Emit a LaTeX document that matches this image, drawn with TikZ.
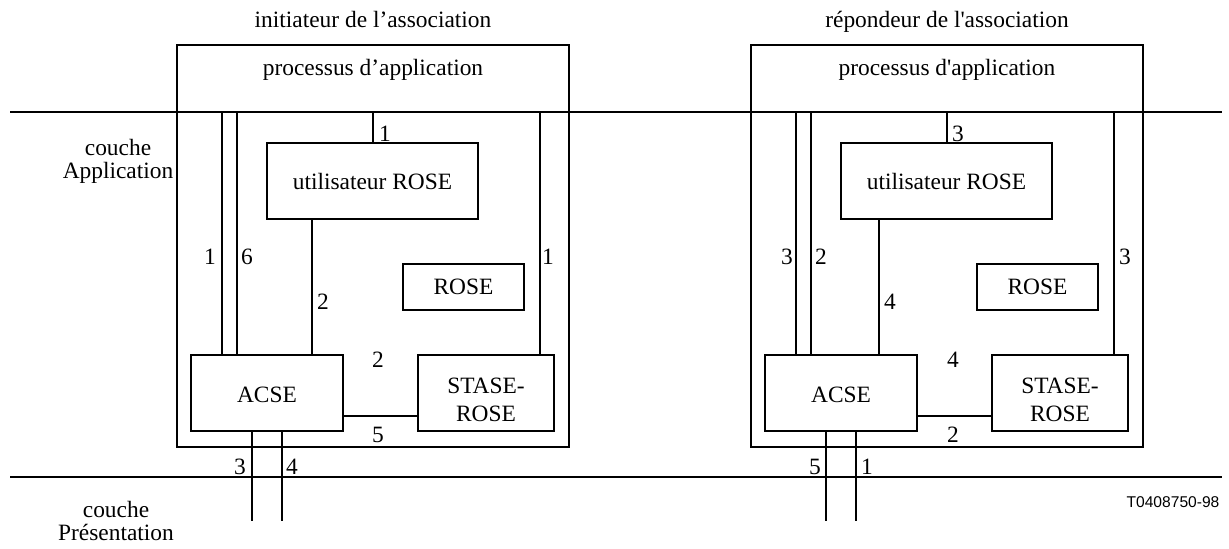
\documentclass[tikz,border=0pt]{standalone}
\usepackage{fontspec}
\setmainfont{Liberation Serif}[Ligatures=TeXOff]
\newfontfamily\labelsans{Liberation Sans}

% one side of the association: application process box and its entities
% #1 = process caption, #2 = x of the user/ACSE link
\newcommand\drawside[2]{%
  \node[box, minimum width=196pt, minimum height=201pt] (proc) at (373,246) {};
  \node[txt, anchor=base] (proctext) at (373,75) {#1};
  \node[box, minimum width=105.5pt, minimum height=38pt] (user) at (372.5,181) {utilisateur ROSE};
  \node[box, minimum width=60.5pt, minimum height=23pt] (rose) at (463.5,287) {ROSE};
  \node[box, minimum width=76pt, minimum height=38pt, text height=10pt] (acse) at (267,393) {ACSE};
  \node[box, minimum width=68pt, minimum height=38pt, align=center, text height=28.5pt,
        font=\fontsize{11.7}{14}\selectfont] (stase) at (486,393) {STASE-\\ROSE};
  \coordinate (va) at (222,112);
  \coordinate (vb) at (237,112);
  \coordinate (vu) at (373,112);
  \coordinate (vs) at (540,112);
  \coordinate (vm) at (#2,0);
  \coordinate (hl) at (0,416);
  \coordinate (pa) at (252,521);
  \coordinate (pb) at (282,521);
  \draw[link] (va) -- (va |- acse.north);
  \draw[link] (vb) -- (vb |- acse.north);
  \draw[link] (vu) -- (vu |- user.north);
  \draw[link] (vs) -- (vs |- stase.north);
  \draw[link] (vm |- user.south) -- (vm |- acse.north);
  \draw[link] (hl -| acse.east) -- (hl -| stase.west);
  \draw[link] (pa |- acse.south) -- (pa);
  \draw[link] (pb |- acse.south) -- (pb);
}

\begin{document}
\begin{tikzpicture}[x=0.5pt,y=-0.5pt,
  every node/.style={font=\fontsize{11.7}{11.5}\selectfont},
  box/.style={draw, line width=0.6pt, inner sep=0pt},
  txt/.style={inner sep=0pt},
  num/.style={inner sep=0pt},
  link/.style={line width=1pt}]
\useasboundingbox (0,0) rectangle (1229,548);

% layer boundaries
\coordinate (appL) at (10,112);
\coordinate (appR) at (1222,112);
\coordinate (preL) at (10,477);
\coordinate (preR) at (1222,477);
\draw[link] (appL) -- (appR);
\draw[link] (preL) -- (preR);

\node[txt, align=center] (layapp) at (118,161) {couche\\Application};
\node[txt, align=center] (laypre) at (116,521) {couche\\Présentation};
\node[txt] (tagid) at (1173,502) {\labelsans\fontsize{7.8}{9}\selectfont T0408750-98};

% initiator side
\node[txt, anchor=base] (titleL) at (373,27) {initiateur de l’association};
\begin{scope}[name prefix=L-]
  \drawside{processus d’application}{312}
  \node[num] (n1) at (385,134) {1};
  \node[num] (n2) at (210,257) {1};
  \node[num] (n3) at (247,257) {6};
  \node[num] (n4) at (548,257) {1};
  \node[num] (n5) at (323,302) {2};
  \node[num] (n6) at (378,360) {2};
  \node[num] (n7) at (378,435) {5};
  \node[num] (n8) at (240,467) {3};
  \node[num] (n9) at (292,467) {4};
\end{scope}

% responder side
\node[txt, anchor=base] (titleR) at (947,27) {répondeur de l'association};
\begin{scope}[shift={(574,0)}, name prefix=R-]
  \drawside{processus d'application}{305}
  \node[num] (n1) at (384,134) {3};
  \node[num] (n2) at (213,257) {3};
  \node[num] (n3) at (247,257) {2};
  \node[num] (n4) at (551,257) {3};
  \node[num] (n5) at (316,302) {4};
  \node[num] (n6) at (379,360) {4};
  \node[num] (n7) at (379,435) {2};
  \node[num] (n8) at (241,467) {5};
  \node[num] (n9) at (293,467) {1};
\end{scope}
\end{tikzpicture}
\end{document}
